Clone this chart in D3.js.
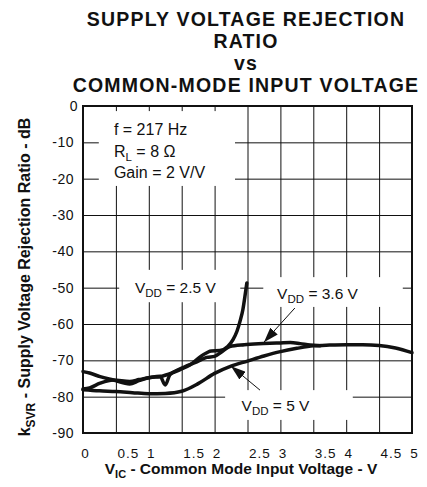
<!DOCTYPE html>
<html>
<head>
<meta charset="utf-8">
<script src="https://cdn.jsdelivr.net/npm/d3@7"></script>
<style>
  body { margin: 0; background: #fff; }
  svg { display: block; font-family: "Liberation Sans", Arial, Helvetica, sans-serif; }
</style>
</head>
<body>
<svg id="chart" width="427" height="487"></svg>
<script>
// axis ticks
const xTicks = [0, 0.5, 1, 1.5, 2, 2.5, 3, 3.5, 4, 4.5, 5];
const xTickLabels = ["0", "0.5", "1", "1.5", "2", "2.5", "3", "3.5", "4", "4.5", "5"];
const yTicks = [0, -10, -20, -30, -40, -50, -60, -70, -80, -90];
const yTickLabels = ["0", "-10", "-20", "-30", "-40", "-50", "-60", "-70", "-80", "-90"];

// VDD = 2.5 V
const vic25 = [0, 0.1, 0.26, 0.46, 0.71, 0.85, 1.02, 1.17, 1.3, 1.47, 1.63, 1.8, 1.95, 2.08, 2.2, 2.28, 2.34, 2.39, 2.43, 2.46, 2.49];
const svr25 = [-73.1, -73.5, -74.5, -75.4, -76.5, -75.6, -74.7, -74.5, -73.8, -72.6, -71.2, -68.8, -67.4, -67.3, -66.2, -64.3, -62.0, -59.0, -56.0, -52.5, -48.7];

// VDD = 3.6 V
const vic36 = [0, 0.1, 0.26, 0.46, 0.71, 0.85, 1.02, 1.17, 1.25, 1.32, 1.47, 1.73, 1.88, 2.0, 2.1, 2.23, 2.45, 2.74, 3.0, 3.15, 3.3, 3.45, 3.6];
const svr36 = [-77.9, -77.6, -76.3, -75.4, -75.8, -75.3, -74.7, -74.4, -76.8, -74.0, -72.4, -70.4, -69.2, -68.9, -67.8, -66.2, -65.7, -65.4, -65.2, -65.1, -65.4, -65.8, -66.0];

// VDD = 5 V
const vic5 = [0, 0.25, 0.5, 0.75, 1.0, 1.25, 1.5, 1.75, 2.0, 2.25, 2.5, 2.75, 3.0, 3.25, 3.5, 3.75, 4.0, 4.25, 4.5, 4.75, 5.0];
const svr5 = [-78.1, -78.4, -78.6, -78.9, -79.2, -79.1, -78.5, -76.4, -73.6, -71.6, -70.2, -68.8, -67.6, -66.7, -66.0, -65.8, -65.7, -65.7, -65.9, -66.6, -67.9];

const titleLines = ["SUPPLY VOLTAGE REJECTION", "RATIO", "vs", "COMMON-MODE INPUT VOLTAGE"];

const svg = d3.select("#chart");
const margin = { top: 106, left: 83 },
  width = 329,
  height = 327;

const x = d3.scaleLinear().domain([0, 5]).range([margin.left, margin.left + width]);
const y = d3.scaleLinear().domain([-90, 0]).range([margin.top + height, margin.top]);

// title
svg.append("text")
  .attr("x", 246)
  .attr("y", 26)
  .attr("text-anchor", "middle")
  .attr("fill", "#111")
  .style("font-weight", "bold")
  .style("font-size", "19.5px")
  .style("letter-spacing", "1.2px")
  .selectAll("tspan")
  .data(titleLines)
  .enter()
  .append("tspan")
  .attr("x", 246)
  .attr("dy", (d, i) => (i === 0 ? 0 : 22))
  .text((d) => d);

// grid + tick labels
const xAxis = d3.axisBottom(x)
  .tickValues(xTicks)
  .tickSize(-height)
  .tickFormat((d, i) => xTickLabels[i]);

const gx = svg.append("g")
  .attr("transform", "translate(0," + (margin.top + height) + ")")
  .call(xAxis);
gx.select(".domain").remove();
gx.selectAll("line").attr("stroke", "#111");
gx.selectAll("text")
  .attr("y", 25)
  .attr("dy", 0)
  .attr("fill", "#111")
  .style("font-size", "13.5px")
  .style("letter-spacing", "1px")
  .attr("text-anchor", (d, i) => (xTickLabels[i].indexOf(".") >= 0 ? "start" : "middle"))
  .attr("dx", (d, i) => (xTickLabels[i].indexOf(".") >= 0 ? 1 : 2));

const yAxis = d3.axisLeft(y)
  .tickValues(yTicks)
  .tickSize(-width)
  .tickPadding(9)
  .tickFormat((d, i) => yTickLabels[i]);

const gy = svg.append("g")
  .attr("transform", "translate(" + margin.left + ",0)")
  .call(yAxis);
gy.select(".domain").remove();
gy.selectAll("line").attr("stroke", "#111");
gy.selectAll("text")
  .attr("fill", "#111")
  .style("font-size", "14px")
  .style("letter-spacing", "0.5px")
  .attr("dx", (d) => (d === 0 ? 4 : 0));

// white boxes behind the notes, in data units
const boxes = [
  [0.24, 2.31, -1.4, -22],
  [0.55, 2.39, -45.1, -54],
  [2.74, 4.86, -47.1, -55.3],
  [2.16, 4.1, -78.2, -86.4],
];
svg.append("g")
  .selectAll("rect")
  .data(boxes)
  .enter()
  .append("rect")
  .attr("x", (d) => x(d[0]))
  .attr("width", (d) => x(d[1]) - x(d[0]))
  .attr("y", (d) => y(d[2]))
  .attr("height", (d) => y(d[3]) - y(d[2]))
  .attr("fill", "#fff");

// frame
svg.append("rect")
  .attr("x", x(0))
  .attr("y", y(0))
  .attr("width", x(5) - x(0))
  .attr("height", y(-90) - y(0))
  .attr("fill", "none")
  .attr("stroke", "#111")
  .attr("stroke-width", 2);

// conditions
const cond = svg.append("text")
  .attr("fill", "#111")
  .style("font-size", "16px");
cond.append("tspan").attr("x", x(0.47)).attr("y", y(-8)).text("f = 217 Hz");
cond.append("tspan").attr("x", x(0.47)).attr("y", y(-14)).text("R");
cond.append("tspan").attr("dy", 4).style("font-size", "11.5px").text("L");
cond.append("tspan").attr("dy", -4).text(" = 8 \u03A9");
cond.append("tspan").attr("x", x(0.47)).attr("y", y(-19.8)).text("Gain = 2 V/V");

// curve labels
function vddLabel(vx, dB, value) {
  const t = svg.append("text")
    .attr("x", x(vx))
    .attr("y", y(dB))
    .attr("fill", "#111")
    .style("font-size", "15.5px");
  t.append("tspan").text("V");
  t.append("tspan").attr("dy", 4).style("font-size", "11.5px").text("DD");
  t.append("tspan").attr("dy", -4).text(" = " + value + " V");
}
vddLabel(0.79, -51.5, "2.5");
vddLabel(2.95, -53.2, "3.6");
vddLabel(2.41, -83.9, "5");

// curves
const line = d3.line()
  .x((d) => x(d[0]))
  .y((d) => y(d[1]))
  .curve(d3.curveMonotoneX);

const series = [
  d3.zip(vic25, svr25),
  d3.zip(vic36, svr36),
  d3.zip(vic5, svr5),
];
svg.append("g")
  .selectAll("path")
  .data(series)
  .enter()
  .append("path")
  .attr("d", line)
  .attr("fill", "none")
  .attr("stroke", "#111")
  .attr("stroke-width", 3.5)
  .attr("stroke-linejoin", "round")
  .attr("stroke-linecap", "round");

// arrows pointing at the curves
svg.append("defs")
  .append("marker")
  .attr("id", "head")
  .attr("markerUnits", "userSpaceOnUse")
  .attr("viewBox", "0 0 15 10")
  .attr("refX", 15)
  .attr("refY", 5)
  .attr("markerWidth", 15)
  .attr("markerHeight", 10)
  .attr("orient", "auto")
  .append("path")
  .attr("d", "M0,0L15,5L0,10Z")
  .attr("fill", "#111");

const arrows = [
  [3.22, -55.6, 2.75, -65.0],
  [2.69, -78.2, 2.25, -71.6],
];
svg.append("g")
  .selectAll("line")
  .data(arrows)
  .enter()
  .append("line")
  .attr("x1", (d) => x(d[0]))
  .attr("y1", (d) => y(d[1]))
  .attr("x2", (d) => x(d[2]))
  .attr("y2", (d) => y(d[3]))
  .attr("stroke", "#111")
  .attr("stroke-width", 1)
  .attr("marker-end", "url(#head)");

// axis titles
const xl = svg.append("text")
  .attr("x", 241)
  .attr("y", 474)
  .attr("text-anchor", "middle")
  .attr("fill", "#111")
  .style("font-weight", "bold")
  .style("font-size", "15.5px");
xl.append("tspan").text("V");
xl.append("tspan").attr("dy", 4).style("font-size", "11px").text("IC");
xl.append("tspan").attr("dy", -4).text(" - Common Mode Input Voltage - V");

const yl = svg.append("text")
  .attr("transform", "translate(30,277) rotate(-90)")
  .attr("text-anchor", "middle")
  .attr("fill", "#111")
  .style("font-weight", "bold")
  .style("font-size", "16px");
yl.append("tspan").text("k");
yl.append("tspan").attr("dy", 5).style("font-size", "12px").text("SVR");
yl.append("tspan").attr("dy", -5).text(" - Supply Voltage Rejection Ratio - dB");
</script>
</body>
</html>
